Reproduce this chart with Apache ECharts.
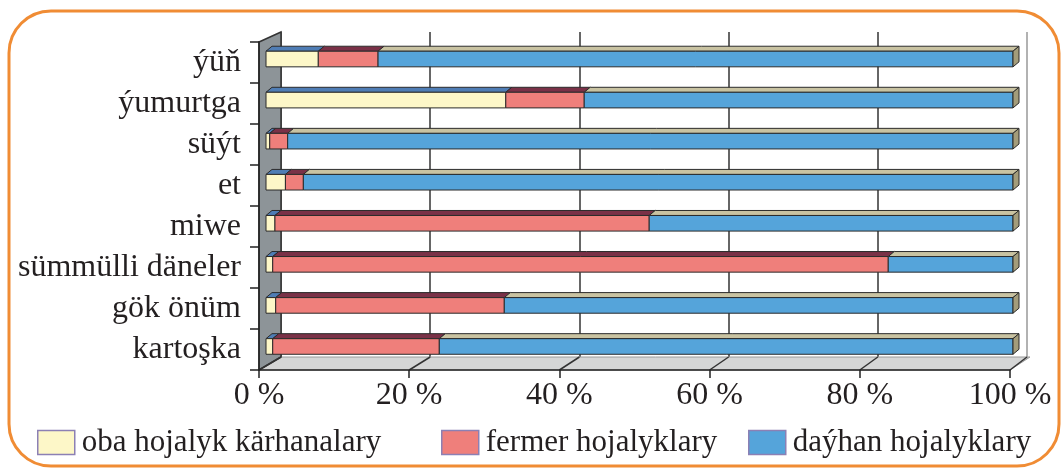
<!DOCTYPE html>
<html>
<head>
<meta charset="utf-8">
<script src="https://cdn.jsdelivr.net/npm/echarts@6/dist/echarts.min.js"></script>
<style>
  html, body { margin: 0; padding: 0; background: #fff; }
  #chart { width: 1064px; height: 469px; }
</style>
</head>
<body>
<div id="chart"></div>
<script>
// data (percent shares)
const categories = ['ýüň', 'ýumurtga', 'süýt', 'et', 'miwe', 'sümmülli däneler', 'gök önüm', 'kartoşka'];
const seriesNames = ['oba hojalyk kärhanalary', 'fermer hojalyklary', 'daýhan hojalyklary'];
const obaValues = [7.0, 32.1, 0.5, 2.6, 1.2, 0.9, 1.3, 0.9];
const fermerValues = [8.0, 10.5, 2.4, 2.4, 50.1, 82.4, 30.6, 22.3];
const dayhanValues = [85.0, 57.4, 97.1, 95.0, 48.7, 16.7, 68.1, 76.8];
const xTicks = [0, 20, 40, 60, 80, 100];

const frontColors = ['#fdf7c8', '#ef7f7b', '#55a4da'];
const topColors = ['#4f7db5', '#7a3147', '#c9c3a2'];
const endColor = '#a39c7a';
const font = 'Liberation Serif';

// frame geometry: front plane and back plane of the 3d box
const front = { left: 259, right: 1010, top: 42, bottom: 370 };
const back = { left: 281, right: 1027, top: 32, bottom: 357 };
const DX = 6, DY = 5;

let chartInstance = echarts.init(document.getElementById('chart'));

function stacked(list) {
  const out = [];
  let acc = categories.map(() => 0);
  list.forEach((vals) => {
    out.push(vals.map((v, i) => {
      const item = [acc[i], acc[i] + v, i];
      acc[i] += v;
      return item;
    }));
  });
  return out;
}
const stackData = stacked([obaValues, fermerValues, dayhanValues]);

function makeRender(s) {
  return function (params, api) {
    const c = api.value(2);
    const p0 = api.coord([api.value(0), c]);
    const p1 = api.coord([api.value(1), c]);
    const h = api.size([0, 1])[1] * 0.38;
    const y0 = p0[1] - h / 2, y1 = p0[1] + h / 2;
    const x0 = p0[0], x1 = p1[0];
    const line = { stroke: '#2b2b2b', lineWidth: 1 };
    const children = [
      { type: 'polygon', shape: { points: [[x0, y0], [x0 + DX, y0 - DY], [x1 + DX, y0 - DY], [x1, y0]] },
        style: Object.assign({ fill: topColors[s] }, line) },
      { type: 'rect', shape: { x: x0, y: y0, width: x1 - x0, height: h },
        style: Object.assign({ fill: frontColors[s] }, line) }
    ];
    if (s === 2) {
      children.push({ type: 'polygon',
        shape: { points: [[x1, y0], [x1 + DX, y0 - DY], [x1 + DX, y1 - DY], [x1, y1]] },
        style: Object.assign({ fill: endColor }, line) });
    }
    return { type: 'group', children: children };
  };
}

const floorLines = xTicks.map((t) => ({
  type: 'line', z: 2,
  shape: {
    x1: back.left + (back.right - back.left) * t / 100, y1: back.bottom,
    x2: front.left + (front.right - front.left) * t / 100, y2: front.bottom
  },
  style: { stroke: '#333', lineWidth: 1.5 }
}));

const option = {
  backgroundColor: '#fff',
  animation: false,
  textStyle: { fontFamily: font },
  grid: [
    { left: 266, right: 51, top: 38.5, height: 328.5 },
    { left: front.left, right: 1064 - front.right, top: front.top, height: front.bottom - front.top },
    { left: back.left, right: 1064 - back.right, top: back.top, height: back.bottom - back.top }
  ],
  xAxis: [
    { gridIndex: 0, type: 'value', min: 0, max: 100, show: false },
    { gridIndex: 1, type: 'value', min: 0, max: 100, interval: 20, z: 3,
      axisLine: { show: true, lineStyle: { color: '#222', width: 1.5 } },
      axisTick: { show: true, length: 8, lineStyle: { color: '#222', width: 1.5 } },
      splitLine: { show: false },
      axisLabel: { formatter: '{value} %', fontSize: 32, color: '#231f20', fontFamily: font, margin: 10 } },
    { gridIndex: 2, type: 'value', min: 0, max: 100, interval: 20,
      axisLine: { show: false }, axisTick: { show: false }, axisLabel: { show: false },
      splitLine: { show: true, lineStyle: { color: ['#333', '#333', '#333', '#333', '#333', '#999'], width: 1.5 } } }
  ],
  yAxis: [
    { gridIndex: 0, type: 'category', data: categories, inverse: true, show: false },
    { gridIndex: 1, type: 'category', data: categories, inverse: true, z: 3,
      axisLine: { show: true, lineStyle: { color: '#222', width: 1.5 } },
      axisTick: { show: true, length: 9, lineStyle: { color: '#222', width: 1.5 } },
      axisLabel: { interval: 0, fontSize: 32, color: '#231f20', fontFamily: font, margin: 18 } },
    { gridIndex: 2, type: 'category', data: categories, show: false }
  ],
  legend: seriesNames.map((name, i) => ({
    data: [name],
    left: [37, 441, 748][i],
    top: 427,
    padding: 0,
    icon: 'rect',
    itemWidth: 37,
    itemHeight: 24,
    itemGap: 8,
    itemStyle: { borderColor: '#8c80b4', borderWidth: 1.5 },
    textStyle: { fontSize: 31, color: '#231f20', fontFamily: font, padding: [0, 0, 0, 2] }
  })),
  series: seriesNames.map((name, s) => ({
    name: name,
    type: 'custom',
    xAxisIndex: 0,
    yAxisIndex: 0,
    z: 5,
    itemStyle: { color: frontColors[s] },
    encode: { x: [0, 1], y: 2 },
    data: stackData[s],
    renderItem: makeRender(s)
  })),
  graphic: [
    { type: 'polygon', z: 1,
      shape: { points: [[back.left, back.bottom], [back.right + 3, back.bottom], [front.right, front.bottom], [front.left, front.bottom]] },
      style: { fill: '#d5d6d6', stroke: '#9a9a9a', lineWidth: 1 } },
    { type: 'polygon', z: 1,
      shape: { points: [[front.left, front.top], [back.left, back.top], [back.left, back.bottom], [front.left, front.bottom]] },
      style: { fill: '#8d9498', stroke: '#333', lineWidth: 1.5 } }
  ].concat(floorLines).concat([
    { type: 'rect', z: 10,
      shape: { x: 9, y: 11, width: 1050, height: 455, r: 42 },
      style: { fill: null, stroke: '#f08c34', lineWidth: 3 } }
  ])
};

chartInstance.setOption(option);
window.onresize = function () {
  chartInstance.resize();
};
</script>
</body>
</html>
